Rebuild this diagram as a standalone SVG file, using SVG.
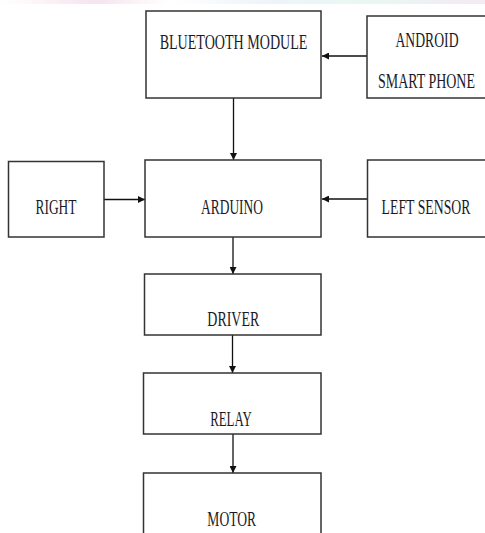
<svg xmlns="http://www.w3.org/2000/svg" width="485" height="533" viewBox="0 0 485 533">
<style>
.box{fill:#fff;stroke:#333;stroke-width:1.5}
.lbl{font-family:"Liberation Serif","Times New Roman",serif;font-size:21px;fill:#1a1a26;text-anchor:middle}
.con{stroke:#111;stroke-width:1.3;fill:none;marker-end:url(#ah)}
</style>
<defs>
<marker id="ah" viewBox="0 0 10 10" refX="10" refY="5" markerWidth="8" markerHeight="7" markerUnits="userSpaceOnUse" orient="auto">
<path d="M0,0 L10,5 L0,10 z" fill="#111"/>
</marker>
<linearGradient id="band" x1="0" y1="0" x2="1" y2="0">
<stop offset="0" stop-color="#fff"/>
<stop offset="0.2" stop-color="#f6e4ee"/>
<stop offset="0.35" stop-color="#fff"/>
<stop offset="0.55" stop-color="#eef4fa"/>
<stop offset="0.75" stop-color="#e8f8f4"/>
<stop offset="1" stop-color="#f4eaf2"/>
</linearGradient>
</defs>
<rect x="0" y="0" width="485" height="533" fill="#fff"/>
<rect x="0" y="0" width="485" height="4" fill="url(#band)"/>
<g id="connectors">
<line class="con" x1="367" y1="56" x2="322" y2="56"/>
<line class="con" x1="233.5" y1="98" x2="233.5" y2="160"/>
<line class="con" x1="104" y1="199.5" x2="145" y2="199.5"/>
<line class="con" x1="367" y1="199" x2="322" y2="199"/>
<line class="con" x1="233" y1="237" x2="233" y2="274"/>
<line class="con" x1="232.5" y1="335" x2="232.5" y2="373"/>
<line class="con" x1="233" y1="434" x2="233" y2="473"/>
</g>
<g id="bluetooth">
<rect class="box" x="146" y="11" width="175" height="87"/>
<text class="lbl" transform="translate(233.5,49) scale(0.67,1)">BLUETOOTH MODULE</text>
</g>
<g id="android">
<path class="box" d="M485,16 H367 V98 H485"/>
<text class="lbl" transform="translate(427,46.5) scale(0.651,1)">ANDROID</text>
<text class="lbl" transform="translate(426.5,88) scale(0.664,1)">SMART PHONE</text>
</g>
<g id="right">
<rect class="box" x="8.5" y="161.5" width="95.5" height="75.5"/>
<text class="lbl" transform="translate(56,214) scale(0.639,1)">RIGHT</text>
</g>
<g id="arduino">
<rect class="box" x="145" y="160" width="176" height="77"/>
<text class="lbl" transform="translate(232,214) scale(0.64,1)">ARDUINO</text>
</g>
<g id="left-sensor">
<path class="box" d="M485,160 H367.5 V237 H485"/>
<text class="lbl" transform="translate(426,214) scale(0.655,1)">LEFT SENSOR</text>
</g>
<g id="driver">
<rect class="box" x="144.5" y="274" width="176.5" height="61"/>
<text class="lbl" transform="translate(233.3,326) scale(0.665,1)">DRIVER</text>
</g>
<g id="relay">
<rect class="box" x="143.5" y="373" width="177.5" height="61"/>
<text class="lbl" transform="translate(231,426) scale(0.614,1)">RELAY</text>
</g>
<g id="motor">
<path class="box" d="M143.5,533 V473 H321 V533"/>
<text class="lbl" transform="translate(231.7,526) scale(0.646,1)">MOTOR</text>
</g>
</svg>
